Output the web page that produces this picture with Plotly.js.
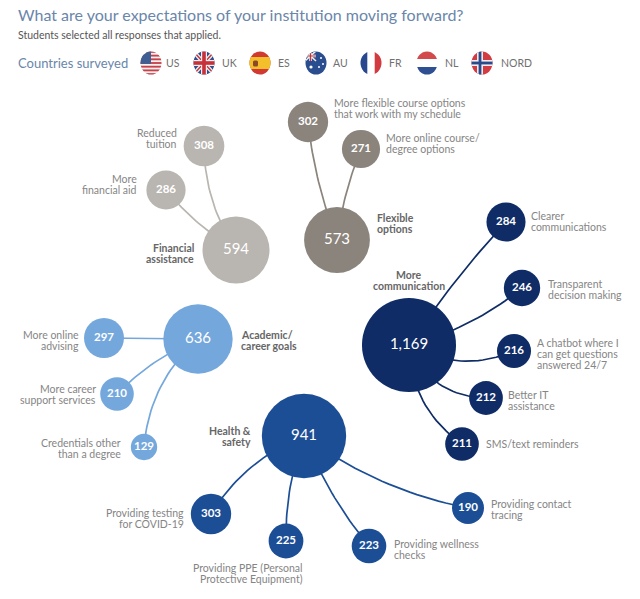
<!DOCTYPE html>
<html>
<head>
<meta charset="utf-8">
<script src="https://cdn.plot.ly/plotly-3.0.1.min.js"></script>
<style>html,body{margin:0;padding:0;background:#fff}#chart{width:640px;height:599px}</style>
</head>
<body>
<div id="chart"></div>
<script>
// ---- Data ----
const groupNames  = ['Financial<br>assistance','Flexible<br>options','More<br>communication','Health &<br>safety','Academic/<br>career goals'];
const groupValues = [594, 573, 1169, 941, 636];

const financialItems  = ['Reduced<br>tuition','More<br>financial aid'];
const financialValues = [308, 286];
const flexibleItems   = ['More flexible course options<br>that work with my schedule','More online course/<br>degree options'];
const flexibleValues  = [302, 271];
const commItems       = ['Clearer<br>communications','Transparent<br>decision making','A chatbot where I<br>can get questions<br>answered 24/7','Better IT<br>assistance','SMS/text reminders'];
const commValues      = [284, 246, 216, 212, 211];
const healthItems     = ['Providing testing<br>for COVID-19','Providing PPE (Personal<br>Protective Equipment)','Providing wellness<br>checks','Providing contact<br>tracing'];
const healthValues    = [303, 225, 223, 190];
const academicItems   = ['More online<br>advising','More career<br>support services','Credentials other<br>than a degree'];
const academicValues  = [297, 210, 129];

const countries = ['US','UK','ES','AU','FR','NL','NORD'];

// ---- Layout of the picture (separate from values) ----
const groupColors = ['#b9b5b0','#8b847c','#0f2c66','#1c4e96','#74a7dc'];
const groupX = [236, 337, 409, 304, 198];
const groupY = [250, 240, 345, 436, 339];
const itemLayout = [
  {x:[204,166], y:[146,190], bend:[-8,-4],
   lx:[177,137], ly:[133,179.3], a:['right','right']},
  {x:[308,361], y:[122,149], bend:[-4,-3],
   lx:[334,386], ly:[103.3,137.5], a:['left','left']},
  {x:[506,522,514,486,462], y:[222,288,351,398,444], bend:[-3,7,13,15,14],
   lx:[531,548,537,508,486], ly:[216,284,342.5,395,444], a:['left','left','left','left','left']},
  {x:[211,286,369,468], y:[514,541,546,508], bend:[10,5,5,10],
   lx:[184,303,394,491], ly:[513,568,544,504], a:['right','right','left','left']},
  {x:[104,117,144], y:[338,394,447], bend:[0,5,12],
   lx:[79,96,121], ly:[335,389,442.5], a:['right','right','right']}
];
const groupLabelPos = [
  {x:193.5,y:248,a:'right'},{x:377,y:218,a:'left'},{x:409,y:275,a:'center'},{x:251,y:431,a:'right'},{x:241,y:335,a:'left'}
];
const flagX  = [151,204,260,316,371,427,482];
const labelX = [166,222,278,333,389,445,501];

const itemNames  = [financialItems,flexibleItems,commItems,healthItems,academicItems];
const itemValues = [financialValues,flexibleValues,commValues,healthValues,academicValues];

const LINE = 11, FONT = 'Lato, "Open Sans", sans-serif';
const fmt = v => v.toLocaleString('en-US');
const annotations = [];
function label(text, x, y0, anchor, size, color, bold, pitch){
  text.split('<br>').forEach((t,i)=>annotations.push({
    text: bold ? '<b>'+t+'</b>' : t, x, y: y0+i*(pitch||LINE), xref:'x', yref:'y',
    xanchor: anchor, yanchor:'middle', showarrow:false, borderpad:0, borderwidth:0,
    font:{family:FONT,size,color}
  }));
}
const traces = [];
// Curved connectors, bent by a small offset from the straight child–parent line
groupNames.forEach((g,gi)=>{
  const xs=[], ys=[], L=itemLayout[gi];
  L.x.forEach((cx,i)=>{
    const cy=L.y[i], px=groupX[gi], py=groupY[gi], dx=px-cx, dy=py-cy, len=Math.hypot(dx,dy);
    const qx=(cx+px)/2+(dy/len)*2*L.bend[i], qy=(cy+py)/2-(dx/len)*2*L.bend[i];
    for(let s=0;s<=24;s++){
      const t=s/24, u=1-t;
      xs.push(u*u*cx+2*u*t*qx+t*t*px);
      ys.push(u*u*cy+2*u*t*qy+t*t*py);
    }
    xs.push(null); ys.push(null);
  });
  traces.push({type:'scatter',mode:'lines',x:xs,y:ys,line:{color:groupColors[gi],width:1.7},hoverinfo:'skip',showlegend:false});
});
// Sub-topic bubbles
groupNames.forEach((g,gi)=>{
  const L=itemLayout[gi];
  traces.push({type:'scatter',mode:'markers+text',x:L.x,y:L.y,
    text:itemValues[gi].map(fmt),textposition:'middle center',
    textfont:{family:FONT,size:11.5,color:'#fff',weight:700},
    marker:{size:itemValues[gi],sizemode:'area',sizeref:0.372,color:groupColors[gi],line:{width:0},opacity:1},
    hovertext:itemNames[gi],hoverinfo:'text',showlegend:false});
  itemNames[gi].forEach((n,i)=>label(n,L.lx[i],L.ly[i],L.a[i],10.5,'#858585',false));
});
// Main bubbles
traces.push({type:'scatter',mode:'markers+text',x:groupX,y:groupY,
  text:groupValues.map(fmt),textposition:'middle center',
  textfont:{family:FONT,size:15,color:'#fff',weight:400},
  marker:{size:groupValues,sizemode:'area',sizeref:0.2644,color:groupColors,line:{width:0},opacity:1},
  hovertext:groupNames,hoverinfo:'text',showlegend:false});
groupNames.forEach((n,i)=>{
  const p=groupLabelPos[i];
  label(n,p.x,p.y,p.a,10.5,'#666666',true);
});

// Header text
label('What are your expectations of your institution moving forward?',18,14.5,'left',16,'#6a86aa',false);
label('Students selected all responses that applied.',18,34.5,'left',10.5,'#555555',false);
label('Countries surveyed',18,63,'left',13,'#6a86aa',false);
countries.forEach((c,i)=>label(c,labelX[i],63,'left',10.5,'#707070',false));

// Flags
function flagSvg(body){
  return 'data:image/svg+xml,'+encodeURIComponent(
   '<svg xmlns="http://www.w3.org/2000/svg" width="22" height="24" viewBox="0 0 22 24"><defs><clipPath id="c"><ellipse cx="11" cy="12" rx="10.5" ry="11.5"/></clipPath></defs><g clip-path="url(#c)">'+body+'</g></svg>');
}
let usStripes='';
for(let i=0;i<13;i+=2) usStripes+='<rect x="0" y="'+(i*24/13)+'" width="22" height="'+(24/13)+'" fill="#c8404a"/>';
const flagBodies = [
  '<rect width="22" height="24" fill="#f4f0f0"/>'+usStripes+'<rect width="11" height="12.9" fill="#3f5f94"/>',
  '<rect width="22" height="24" fill="#2f4f8c"/><path d="M0 0L22 24M22 0L0 24" stroke="#eee" stroke-width="4"/><path d="M0 0L22 24M22 0L0 24" stroke="#c8303a" stroke-width="1.4"/><rect x="8" width="6" height="24" fill="#eee"/><rect y="9" width="22" height="6" fill="#eee"/><rect x="9.2" width="3.6" height="24" fill="#c8303a"/><rect y="10.2" width="22" height="3.6" fill="#c8303a"/>',
  '<rect width="22" height="24" fill="#d03a32"/><rect y="6" width="22" height="12" fill="#f3c02c"/><rect x="4" y="9.5" width="5" height="6" rx="1.5" fill="#8a4a2a"/>',
  '<rect width="22" height="24" fill="#2a4d8f"/><rect width="11" height="10" fill="#2a4d8f"/><path d="M0 0L11 10M11 0L0 10" stroke="#eee" stroke-width="1.6"/><path d="M5.5 0V10M0 5H11" stroke="#eee" stroke-width="2.6"/><path d="M5.5 0V10M0 5H11" stroke="#c8303a" stroke-width="1.2"/><circle cx="16" cy="7" r="1" fill="#fff"/><circle cx="18" cy="13" r="1" fill="#fff"/><circle cx="14" cy="16" r="1" fill="#fff"/><circle cx="6" cy="16" r="1.6" fill="#fff"/>',
  '<rect width="22" height="24" fill="#fff"/><rect width="7.3" height="24" fill="#27478f"/><rect x="14.7" width="7.3" height="24" fill="#d13b40"/>',
  '<rect width="22" height="24" fill="#fff"/><rect width="22" height="8" fill="#d34a4c"/><rect y="16" width="22" height="8" fill="#2e4f92"/>',
  '<rect width="22" height="24" fill="#d33b42"/><rect x="6" width="6" height="24" fill="#eee"/><rect y="9" width="22" height="6" fill="#eee"/><rect x="7.6" width="2.8" height="24" fill="#2b4a8c"/><rect y="10.6" width="22" height="2.8" fill="#2b4a8c"/>'
];
const images = flagBodies.map((b,i)=>({
  source:flagSvg(b),xref:'x',yref:'y',x:flagX[i],y:63,sizex:22,sizey:24,xanchor:'center',yanchor:'middle',layer:'above',sizing:'stretch'
}));

const layout = {
  width:640,height:599,margin:{l:0,r:0,t:0,b:0,pad:0},
  paper_bgcolor:'#fff',plot_bgcolor:'#fff',showlegend:false,
  xaxis:{range:[0,640],visible:false,fixedrange:true},
  yaxis:{range:[599,0],visible:false,fixedrange:true},
  annotations,images
};
Plotly.newPlot('chart',traces,layout,{displayModeBar:false,staticPlot:true});
</script>
</body>
</html>
